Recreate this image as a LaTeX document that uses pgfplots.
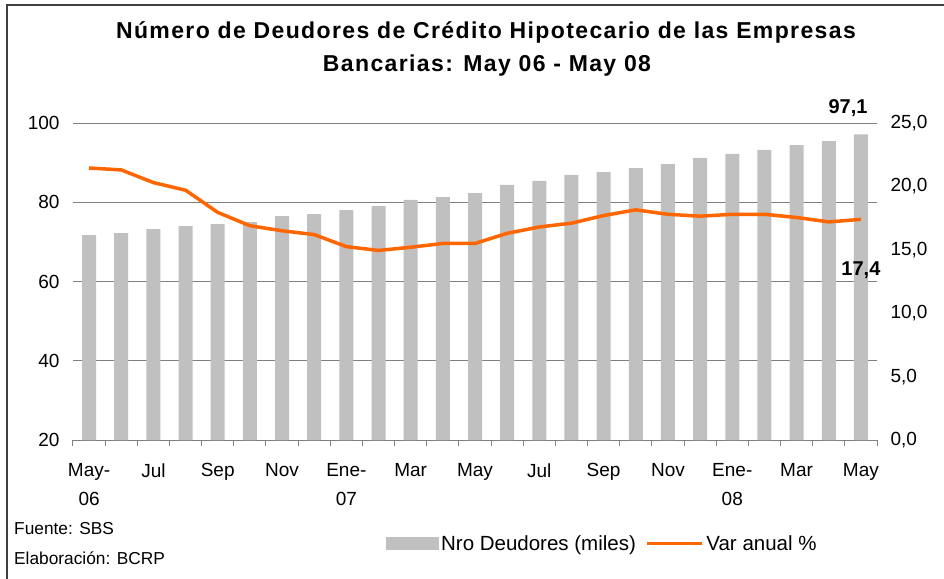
\documentclass[border=0pt]{standalone}
\usepackage{pgfplots}
\pgfplotsset{compat=1.18}
\usepackage{pgfplotstable}
\usepackage{fontspec}
\setmainfont{Liberation Sans}
\newfontfamily\titlefont[LetterSpace=6]{Liberation Sans}
\definecolor{bargray}{HTML}{C0C0C0}
\definecolor{lineorange}{HTML}{FF6600}
\definecolor{gridgray}{HTML}{808080}

\pgfplotstableread{
x deud var
0  71.7 21.45
1  72.2 21.3
2  73.2 20.3
3  74.0 19.7
4  74.5 17.95
5  75.0 16.9
6  76.5 16.5
7  77.0 16.2
8  78.0 15.25
9  79.0 14.95
10 80.6 15.2
11 81.3 15.5
12 82.3 15.5
13 84.4 16.3
14 85.4 16.8
15 86.9 17.1
16 87.6 17.7
17 88.6 18.15
18 89.6 17.8
19 91.2 17.65
20 92.2 17.8
21 93.2 17.8
22 94.4 17.55
23 95.4 17.2
24 97.1 17.4
}\datatab

\begin{document}
\begin{tikzpicture}
\useasboundingbox (0pt,0pt) rectangle (944pt,578pt);
\draw[line width=1.2pt, black!75] (7pt,-20pt) -- (7pt,573pt) -- (970pt,573pt);

\node[anchor=base, font=\titlefont\fontsize{23}{27}\selectfont\bfseries] at (486pt,539pt) {Número de Deudores de Crédito Hipotecario de las Empresas};
\node[anchor=base, font=\titlefont\fontsize{23}{27}\selectfont\bfseries] at (487pt,506pt) {Bancarias: May 06 - May 08};

\node[anchor=base west, font=\fontsize{17.3}{22}\selectfont, inner sep=0pt] at (14pt,44pt) {Fuente: SBS};
\node[anchor=base west, font=\fontsize{17.3}{22}\selectfont, inner sep=0pt] at (14pt,14pt) {Elaboración: BCRP};

\begin{axis}[
  at={(73pt,138pt)}, anchor=south west,
  scale only axis, width=804pt, height=317pt,
  xmin=-0.5, xmax=24.5, ymin=20, ymax=100,
  ytick={20,40,60,80,100},
  axis y line*=left, axis x line*=bottom,
  y axis line style={draw=none},
  x axis line style={gridgray, line width=1pt},
  ymajorgrids, grid style={gridgray, line width=1pt},
  major tick length=0pt,
  xtick={0,2,...,24},
  xticklabels={{May-\\06},Jul,Sep,Nov,{Ene-\\07},Mar,May,Jul,Sep,Nov,{Ene-\\08},Mar,May},
  xticklabel style={align=center, font=\fontsize{19}{29}\selectfont, anchor=north, yshift=-20pt},
  extra x ticks={-0.5,0.5,...,24.5},
  extra x tick labels={},
  extra x tick style={grid=none, major tick length=6pt, tick style={gridgray, line width=1pt}, tick align=outside},
  yticklabel style={font=\fontsize{19}{23}\selectfont, xshift=-10pt},
  /pgf/number format/assume math mode=true,
  clip=false,
]
\addplot[ybar, bar width=14pt, fill=bargray, draw=none] table[x=x,y=deud] {\datatab};
\node[font=\fontsize{20}{24}\selectfont\bfseries, anchor=south] at (axis cs:23.6,97.1) [yshift=14pt] {97,1};
\end{axis}

\begin{axis}[
  at={(73pt,138pt)}, anchor=south west,
  scale only axis, width=804pt, height=317pt,
  xmin=-0.5, xmax=24.5, ymin=0, ymax=25,
  ytick={0,5,...,25},
  axis y line*=right, axis x line=none,
  y axis line style={draw=none},
  major tick length=0pt,
  yticklabel style={font=\fontsize{19}{23}\selectfont, xshift=10pt, /pgf/number format/.cd, fixed, fixed zerofill, precision=1, use comma},
  /pgf/number format/assume math mode=true,
  clip=false,
  legend style={at={(0.385,-0.3265)}, anchor=west, draw=none, fill=none, font=\fontsize{20.5}{24}\selectfont, legend columns=2, /tikz/every even column/.style={column sep=6pt}, nodes={inner xsep=3pt}},
  legend cell align=left,
]
\addlegendimage{legend image code/.code={\fill[bargray] (0pt,-6pt) rectangle (52pt,6pt);}}
\addlegendentry{Nro Deudores (miles)}
\addplot[lineorange, line width=3.5pt, legend image code/.code={\draw[lineorange, line width=3.5pt] (0pt,0pt) -- (55pt,0pt);}] table[x=x,y=var] {\datatab};
\addlegendentry{Var anual \%}
\node[font=\fontsize{20}{24}\selectfont\bfseries, anchor=north] at (axis cs:24,17.4) [yshift=-39pt] {17,4};
\end{axis}
\end{tikzpicture}
\end{document}
